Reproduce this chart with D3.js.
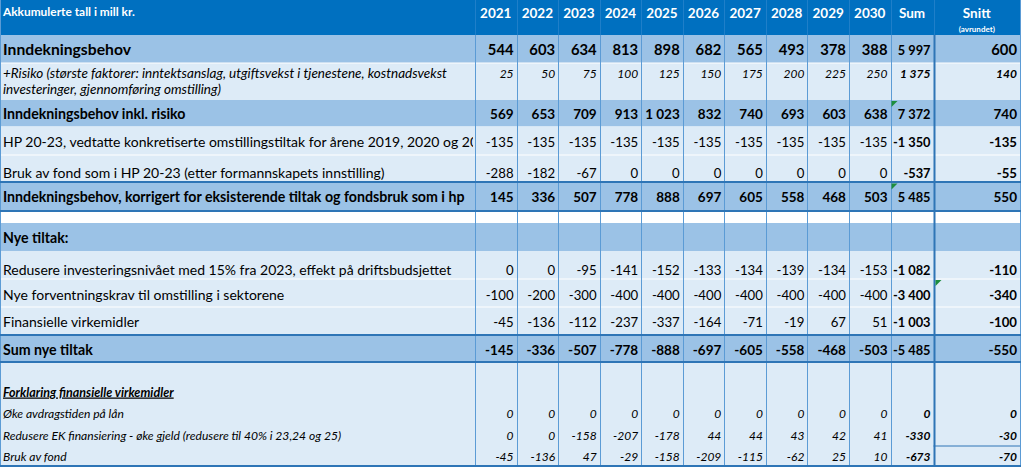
<!DOCTYPE html>
<html><head><meta charset="utf-8">
<script src="https://cdn.jsdelivr.net/npm/d3@7"></script>
<style>
html,body{margin:0;padding:0;background:#fff;}
svg{display:block;font-family:Lato,"Open Sans",sans-serif;}
</style></head>
<body>
<svg id="chart" width="1024" height="467"></svg>
<script>
// ---------- DATA ----------
const headerTitle = "Akkumulerte tall i mill kr.";
const columns = ["2021","2022","2023","2024","2025","2026","2027","2028","2029","2030","Sum","Snitt"];
const snittNote = "(avrundet)";

const rowLabels = [
  "Inndekningsbehov",
  ["+Risiko (største faktorer: inntektsanslag, utgiftsvekst i tjenestene, kostnadsvekst", "investeringer, gjennomføring omstilling)"],
  "Inndekningsbehov inkl. risiko",
  "HP 20-23, vedtatte konkretiserte omstillingstiltak for årene 2019, 2020 og 2021",
  "Bruk av fond som i HP 20-23 (etter formannskapets innstilling)",
  "Inndekningsbehov, korrigert for eksisterende tiltak og fondsbruk som i hp",
  "",
  "Nye tiltak:",
  "Redusere investeringsnivået med 15% fra 2023, effekt på driftsbudsjettet",
  "Nye forventningskrav til omstilling i sektorene",
  "Finansielle virkemidler",
  "Sum nye tiltak",
  "",
  "Forklaring finansielle virkemidler",
  "Øke avdragstiden på lån",
  "Redusere EK finansiering - øke gjeld (redusere til 40% i 23,24 og 25)",
  "Bruk av fond"
];

const inndekningsbehov        = [544, 603, 634, 813, 898, 682, 565, 493, 378, 388, 5997, 600];
const risiko                  = [25, 50, 75, 100, 125, 150, 175, 200, 225, 250, 1375, 140];
const inndekningsbehovRisiko  = [569, 653, 709, 913, 1023, 832, 740, 693, 603, 638, 7372, 740];
const hpOmstillingstiltak     = [-135, -135, -135, -135, -135, -135, -135, -135, -135, -135, -1350, -135];
const brukAvFondHp            = [-288, -182, -67, 0, 0, 0, 0, 0, 0, 0, -537, -55];
const inndekningsbehovKorr    = [145, 336, 507, 778, 888, 697, 605, 558, 468, 503, 5485, 550];
const redusereInvestering     = [0, 0, -95, -141, -152, -133, -134, -139, -134, -153, -1082, -110];
const forventningskrav        = [-100, -200, -300, -400, -400, -400, -400, -400, -400, -400, -3400, -340];
const finansielleVirkemidler  = [-45, -136, -112, -237, -337, -164, -71, -19, 67, 51, -1003, -100];
const sumNyeTiltak            = [-145, -336, -507, -778, -888, -697, -605, -558, -468, -503, -5485, -550];
const okeAvdragstid           = [0, 0, 0, 0, 0, 0, 0, 0, 0, 0, 0, 0];
const redusereEk              = [0, 0, -158, -207, -178, 44, 44, 43, 42, 41, -330, -30];
const brukAvFond              = [-45, -136, 47, -29, -158, -209, -115, -62, 25, 10, -673, -70];

const rowValues = [
  inndekningsbehov, risiko, inndekningsbehovRisiko, hpOmstillingstiltak, brukAvFondHp,
  inndekningsbehovKorr, null, null, redusereInvestering, forventningskrav, finansielleVirkemidler,
  sumNyeTiltak, null, null, okeAvdragstid, redusereEk, brukAvFond
];

// ---------- LAYOUT / STYLE ----------
const rowKind = ["band","risk","band","light","light","bandT","white","band","light","light","light","bandT","light","head2","note","note","note"];
const rowEdges = [35, 63, 100, 126.5, 155, 182, 211, 223, 251, 279, 307, 335, 362, 380, 402, 424, 446, 466];
const baselines = [54.5, 77.5, 119, 147, 177.5, 201.5, 0, 242.5, 275, 299.5, 326.5, 355, 0, 396.5, 417.5, 439.5, 461];

const C = {
  header: "#0070C0",
  band: "#9BC2E6",
  light: "#DDEBF7",
  grid: "#5B9BD5",
  strong: "#2E75B6",
  text: "#000000"
};

const svg = d3.select("#chart");

const xEdge = d3.scaleLinear().domain([0, 10, 11, 12]).range([475, 890.5, 933.5, 1020]);
const y = i => rowEdges[i];

const locale = d3.formatLocale({decimal: ",", thousands: "\u00a0", grouping: [3], currency: ["", " kr"], minus: "-"});
const fmt = locale.format(",d");

// header background
svg.append("rect").attr("x", 0).attr("y", 0).attr("width", xEdge(12)).attr("height", rowEdges[0]).attr("fill", C.header);

// row backgrounds
rowKind.forEach((k, i) => {
  const fill = (k === "band" || k === "bandT") ? C.band : (k === "white" ? "#ffffff" : C.light);
  svg.append("rect").attr("x", 0).attr("y", y(i)).attr("width", xEdge(12)).attr("height", y(i + 1) - y(i)).attr("fill", fill);
});

// thin white separators between ordinary rows
[y(1), y(4), y(9), y(10)].forEach(yy => {
  svg.append("line").attr("x1", 0).attr("x2", xEdge(12)).attr("y1", yy).attr("y2", yy).attr("stroke", "#ffffff").attr("stroke-width", 1);
});

// vertical grid lines
const gridG = svg.append("g");
d3.range(0, 12).forEach(ci => {
  const xx = Math.round(xEdge(ci)) + 0.5;
  gridG.append("line").attr("x1", xx).attr("x2", xx).attr("y1", rowEdges[0]).attr("y2", rowEdges[rowEdges.length - 1])
    .attr("stroke", ci === 11 ? C.strong : C.grid).attr("stroke-width", ci === 11 ? 2 : 1);
  gridG.append("line").attr("x1", xx).attr("x2", xx).attr("y1", 0).attr("y2", rowEdges[0])
    .attr("stroke", "#1f7fc9").attr("stroke-width", 1);
});
svg.append("line").attr("x1", 0.5).attr("x2", 0.5).attr("y1", 0).attr("y2", y(17)).attr("stroke", C.grid);
svg.append("line").attr("x1", xEdge(12) + 0.5).attr("x2", xEdge(12) + 0.5).attr("y1", 0).attr("y2", y(17)).attr("stroke", C.grid);

// strong horizontal borders
[y(5), y(6), y(11), y(12), y(17)].forEach(yy => {
  svg.append("line").attr("x1", 0).attr("x2", xEdge(12) + 1).attr("y1", yy).attr("y2", yy).attr("stroke", C.strong).attr("stroke-width", 2);
});
svg.append("line").attr("x1", xEdge(11)).attr("x2", xEdge(12)).attr("y1", y(16)).attr("y2", y(16)).attr("stroke", C.strong).attr("stroke-width", 1);

// ---------- HEADER TEXT ----------
svg.append("text").attr("x", 3).attr("y", 16).attr("fill", "#fff").attr("font-weight", 700).attr("font-size", 11.9).text(headerTitle);
columns.forEach((c, ci) => {
  const cx = (xEdge(ci) + xEdge(ci + 1)) / 2;
  svg.append("text").attr("x", cx).attr("y", 17.5).attr("text-anchor", "middle").attr("fill", "#fff")
    .attr("font-weight", 700).attr("font-size", 13.5).text(c);
});
svg.append("text").attr("x", (xEdge(11) + xEdge(12)) / 2).attr("y", 31.5).attr("text-anchor", "middle").attr("fill", "#fff")
  .attr("font-weight", 700).attr("font-size", 8).text(snittNote);

// ---------- BODY TEXT ----------
svg.append("clipPath").attr("id", "labelClip").append("rect").attr("x", 0).attr("y", 0).attr("width", xEdge(0) - 2).attr("height", 467);
const labelG = svg.append("g").attr("clip-path", "url(#labelClip)");

const styleFor = k => {
  switch (k) {
    case "band":
    case "bandT": return {weight: 700, style: "normal", size: 14.2, vsize: 13.5, vbold: true};
    case "risk": return {weight: 400, style: "italic", size: 13.5, vsize: 12, vbold: false};
    case "head2": return {weight: 700, style: "italic", size: 12.5, vsize: 12, vbold: false};
    case "note": return {weight: 400, style: "italic", size: 12.1, vsize: 12, vbold: false};
    default: return {weight: 400, style: "normal", size: 14, vsize: 13.2, vbold: false};
  }
};

rowLabels.forEach((lab, i) => {
  const k = rowKind[i];
  const s = styleFor(k);
  const size = i === 0 ? 15.7 : s.size;
  const baseline = baselines[i];
  const lines = Array.isArray(lab) ? lab : [lab];
  lines.forEach((ln, li) => {
    if (!ln) return;
    const t = labelG.append("text").attr("x", 3).attr("y", baseline + li * 16.5).attr("font-size", size)
      .attr("font-weight", s.weight).attr("font-style", s.style).attr("fill", C.text).text(ln);
    if (k === "head2") t.attr("text-decoration", "underline");
  });
  const vals = rowValues[i];
  if (!vals) return;
  vals.forEach((v, ci) => {
    const bold = s.vbold || ci >= 10;
    let vsize = i === 0 ? 14.8 : s.vsize;
    if (ci === 10 && vsize > 13) vsize = 12.8;
    svg.append("text").attr("x", xEdge(ci + 1) - 3).attr("y", baseline).attr("text-anchor", "end")
      .attr("font-size", vsize).attr("font-weight", bold ? 700 : 400).attr("font-style", s.style)
      .attr("fill", C.text).text(fmt(v));
  });
});

// Excel-style green indicator triangles
const tri = (cx, cy) => svg.append("path").attr("d", `M${cx},${cy}L${cx + 6},${cy}L${cx},${cy + 6}Z`).attr("fill", "#1E8E3E");
tri(xEdge(10) + 1, y(2) + 1);
tri(xEdge(10) + 1, y(5) + 1.5);
tri(xEdge(11) + 2, y(9) + 1);
</script>
</body></html>
